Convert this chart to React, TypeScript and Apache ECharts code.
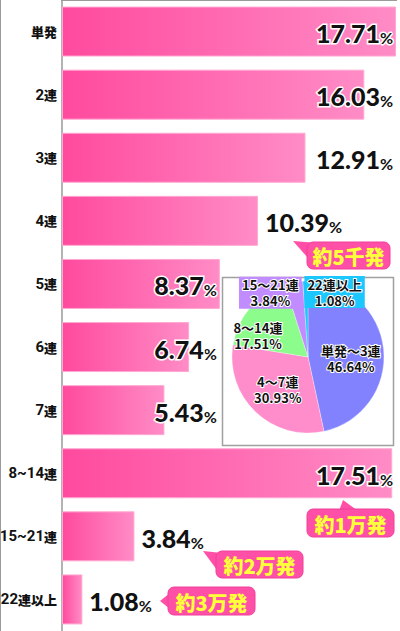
import React, { useEffect, useRef } from "react";
import * as echarts from "echarts";

// ---- data ----
const categories = ["単発", "2連", "3連", "4連", "5連", "6連", "7連", "8~14連", "15~21連", "22連以上"];
const rates = [17.71, 16.03, 12.91, 10.39, 8.37, 6.74, 5.43, 17.51, 3.84, 1.08];
// where each bar's value label sits: aligned in the right column, aligned in the middle group, or just after the bar
const labelPlacement = ["column", "column", "column", "after", "group", "group", "group", "column", "after", "after"];

const pieNames = ["単発～3連", "4～7連", "8～14連", "15～21連", "22連以上"];
const pieRates = [46.64, 30.93, 17.51, 3.84, 1.08];
const pieColors = ["#8282ff", "#ff8ccb", "#8cfc8c", "#c18cff", "#1cc6ff"];

const calloutTexts = ["約5千発", "約1万発", "約2万発", "約3万発"];

// ---- layout (not data) ----
const pieLabelLayout = [
  { offset: [2, 6] },
  { offset: [-2, 3] },
  { offset: [-19, 5] },
  { offset: [-30, -24], bg: true },
  { offset: [28, -24], bg: true },
];
const calloutLayout = [
  { x: 307, y: 242, w: 83, h: 27, tail: [[293, 241], [318, 243], [308, 258]] },
  { x: 307, y: 509, w: 87, h: 28, tail: [[343, 500], [339, 511], [358, 511]] },
  { x: 216, y: 551, w: 87, h: 27, tail: [[203, 551], [222, 553], [217, 570]] },
  { x: 168, y: 587, w: 87, h: 28, tail: [[160, 601], [170, 593], [170, 609]] },
];

const JP = "'Noto Sans CJK JP', sans-serif";

export default function App() {
  const ref = useRef<HTMLDivElement>(null);

  useEffect(() => {
    if (!ref.current) return;
    const chart = echarts.init(ref.current, undefined, { renderer: "svg" });

    const anchorValues = rates.map((v, i) => {
      const p = labelPlacement[i];
      if (p === "after") return "-";
      return Math.max(...rates.filter((_, j) => labelPlacement[j] === p));
    });

    const valueRich = {
      v: {
        fontFamily: "Lato, sans-serif",
        fontWeight: 900,
        fontSize: 25,
        color: "#111",
        textBorderColor: "#fff",
        textBorderWidth: 3,
        lineHeight: 28,
        verticalAlign: "bottom",
      },
      p: {
        fontFamily: "Lato, sans-serif",
        fontWeight: 700,
        fontSize: 16,
        color: "#111",
        textBorderColor: "#fff",
        textBorderWidth: 3,
        lineHeight: 21,
        verticalAlign: "bottom",
      },
    };

    const barGradient = new echarts.graphic.LinearGradient(0, 0, 1, 0, [
      { offset: 0, color: "#ff4a9e" },
      { offset: 1, color: "#ff8cc6" },
    ]);

    const callouts = calloutTexts.map((t, i) => {
      const c = calloutLayout[i];
      return {
        type: "group",
        z: 20,
        children: [
          {
            type: "polygon",
            shape: { points: c.tail },
            style: { fill: "#ff4fa6" },
            z: 20,
          },
          {
            type: "rect",
            shape: { x: c.x, y: c.y, width: c.w, height: c.h, r: 6 },
            style: { fill: "#ff4fa6", stroke: "#f0409a", lineWidth: 1 },
            z: 20,
          },
          {
            type: "text",
            x: c.x + c.w / 2,
            y: c.y + c.h / 2 + 1,
            z: 21,
            style: {
              text: t,
              fill: "#ffff3a",
              font: `900 20px ${JP}`,
              align: "center",
              verticalAlign: "middle",
            },
          },
        ],
      };
    });

    chart.setOption({
      animation: false,
      backgroundColor: "#fff",
      grid: {
        left: 62,
        right: 4,
        top: 0,
        bottom: 0,
        containLabel: false,
        outerBoundsMode: "none",
      },
      xAxis: {
        type: "value",
        min: 0,
        max: Math.max(...rates),
        show: false,
      },
      yAxis: {
        type: "category",
        inverse: true,
        data: categories,
        axisLine: { show: true, lineStyle: { color: "#9a9a9a", width: 1.5 } },
        axisTick: { show: false },
        splitLine: { show: false },
        axisLabel: {
          margin: 5,
          color: "#111",
          fontFamily: JP,
          fontWeight: 900,
          fontSize: 13,
          formatter: (v: string) => v.replace(/([0-9~]+)/g, "{n|$1}"),
          rich: {
            n: {
              fontFamily: "Roboto, sans-serif",
              fontWeight: "bold",
              fontSize: 15,
              color: "#111",
            },
          },
        },
      },
      graphic: [
        {
          type: "line",
          shape: { x1: 0.5, y1: 0, x2: 0.5, y2: 631 },
          style: { stroke: "#9a9a9a", lineWidth: 1 },
          z: 1,
        },
        {
          type: "line",
          shape: { x1: 61, y1: 0.5, x2: 397, y2: 0.5 },
          style: { stroke: "#9a9a9a", lineWidth: 1 },
          z: 1,
        },
        {
          type: "rect",
          shape: { x: 222.5, y: 277.5, width: 171, height: 168 },
          style: { fill: "#fff", stroke: "#a0a0a0", lineWidth: 1.5 },
          z: 1,
        },
        ...callouts,
      ],
      series: [
        {
          type: "bar",
          data: rates.map((v, i) => ({
            value: v,
            label:
              labelPlacement[i] === "after"
                ? { show: true, position: "right", distance: 7 }
                : { show: false },
          })),
          barWidth: 50,
          itemStyle: {
            color: barGradient,
            borderColor: "#ffa8d2",
            borderWidth: 1,
          },
          label: {
            show: true,
            formatter: (p: any) => `{v|${p.value.toFixed(2)}}{p|%}`,
            rich: valueRich,
          },
          z: 2,
        },
        {
          type: "bar",
          data: anchorValues,
          barWidth: 50,
          barGap: "-100%",
          silent: true,
          itemStyle: { color: "rgba(0,0,0,0)" },
          label: {
            show: true,
            position: "insideRight",
            distance: 3,
            formatter: (p: any) => `{v|${rates[p.dataIndex].toFixed(2)}}{p|%}`,
            rich: valueRich,
          },
          z: 3,
        },
        {
          type: "pie",
          center: [308, 357],
          radius: 76,
          startAngle: 90,
          clockwise: true,
          avoidLabelOverlap: false,
          labelLayout: { hideOverlap: false },
          z: 5,
          itemStyle: { borderColor: "rgba(255,255,255,0.6)", borderWidth: 0.5 },
          label: {
            show: true,
            position: "inside",
            formatter: (p: any) => `${p.name}\n${p.value.toFixed(2)}%`,
            color: "#111",
            fontFamily: JP,
            fontWeight: "bold",
            fontSize: 13,
            lineHeight: 16,
            textBorderColor: "#fff",
            textBorderWidth: 2,
          },
          labelLine: { show: false },
          data: pieNames.map((n, i) => ({
            name: n,
            value: pieRates[i],
            itemStyle: { color: pieColors[i] },
            label: {
              offset: pieLabelLayout[i].offset,
              ...(pieLabelLayout[i].bg
                ? { backgroundColor: pieColors[i], padding: [0, 3, 0, 3] }
                : {}),
            },
          })),
        },
      ],
    });

    return () => chart.dispose();
  }, []);

  return (
    <div
      ref={ref}
      style={{ position: "absolute", left: 0, top: 0, width: 400, height: 631 }}
    />
  );
}
